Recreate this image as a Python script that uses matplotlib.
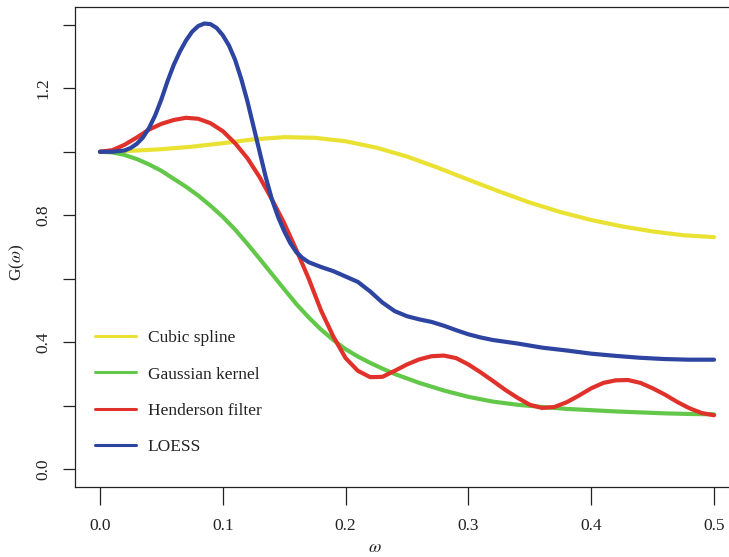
import numpy as np
import matplotlib.pyplot as plt

plt.rcParams['font.family'] = ['Liberation Serif', 'DejaVu Serif']
plt.rcParams['mathtext.fontset'] = 'stix'

# gain functions of four smoothers, G(omega)
w_spline = [0, .025, .05, .075, .1, .125, .15, .175, .2, .225, .25, .275, .3,
            .325, .35, .375, .4, .425, .45, .475, .5]
g_spline = [1.0, 1.003, 1.008, 1.016, 1.027, 1.039, 1.046, 1.044, 1.033, 1.013,
            0.985, 0.95, 0.912, 0.875, 0.84, 0.81, 0.785, 0.765, 0.749, 0.737, 0.731]

w_gauss = [0, .01, .02, .03, .04, .05, .06, .07, .08, .09, .1, .11, .12, .13, .14,
           .15, .16, .17, .18, .19, .2, .21, .22, .23, .24, .26, .28, .3, .32,
           .34, .36, .38, .4, .42, .44, .46, .48, .5]
g_gauss = [1.0, 0.998, 0.99, 0.977, 0.96, 0.94, 0.915, 0.89, 0.862, 0.83, 0.795,
           0.755, 0.71, 0.663, 0.615, 0.567, 0.52, 0.478, 0.44, 0.407, 0.378,
           0.355, 0.335, 0.317, 0.3, 0.272, 0.248, 0.228, 0.213, 0.203, 0.196,
           0.19, 0.186, 0.182, 0.179, 0.176, 0.174, 0.173]

w_hend = [0, .01, .02, .03, .04, .05, .06, .07, .08, .09, .1, .11, .12, .13, .14,
          .15, .16, .17, .18, .19, .2, .21, .22, .23, .24, .25, .26, .27, .28,
          .29, .3, .31, .32, .33, .34, .35, .36, .37, .38, .39, .4, .41, .42,
          .43, .44, .45, .46, .47, .48, .49, .5]
g_hend = [1.0, 1.005, 1.022, 1.045, 1.07, 1.088, 1.1, 1.107, 1.104, 1.09, 1.065,
          1.027, 0.98, 0.92, 0.85, 0.775, 0.69, 0.6, 0.5, 0.418, 0.35, 0.31,
          0.29, 0.291, 0.31, 0.33, 0.346, 0.356, 0.358, 0.35, 0.33, 0.305, 0.278,
          0.25, 0.225, 0.203, 0.193, 0.196, 0.211, 0.232, 0.255, 0.272, 0.28,
          0.281, 0.272, 0.255, 0.235, 0.212, 0.192, 0.177, 0.17]

w_loess = [0, .01, .02, .025, .03, .035, .04, .045, .05, .055, .06, .065, .07,
           .075, .08, .085, .09, .095, .1, .105, .11, .115, .12, .125, .13, .135,
           .14, .145, .15, .155, .16, .165, .17, .18, .19, .2, .21, .22, .23, .24,
           .25, .26, .27, .28, .29, .3, .31, .32, .34, .36, .38, .4, .42, .44, .46,
           .48, .5]
g_loess = [1.0, 1.0, 1.004, 1.012, 1.025, 1.045, 1.075, 1.115, 1.165, 1.222,
           1.273, 1.315, 1.35, 1.378, 1.396, 1.404, 1.402, 1.39, 1.367, 1.335,
           1.29, 1.23, 1.16, 1.08, 1.0, 0.92, 0.85, 0.795, 0.75, 0.712, 0.683,
           0.665, 0.652, 0.637, 0.624, 0.607, 0.59, 0.56, 0.525, 0.498, 0.482,
           0.472, 0.464, 0.452, 0.438, 0.425, 0.415, 0.407, 0.396, 0.383, 0.374,
           0.364, 0.357, 0.351, 0.347, 0.345, 0.345]

labels = ['Cubic spline', 'Gaussian kernel', 'Henderson filter', 'LOESS']
colors = ['#EAE233', '#63C84A', '#E0322B', '#2D44A0']

W, H = 729, 557
fig = plt.figure(figsize=(W / 100, H / 100), dpi=100)
# box runs off the right edge of the figure
ax = fig.add_axes([75.4 / W, 1 - 487 / H, (738.6 - 75.4) / W, 480 / H])

series = [(w_spline, g_spline), (w_gauss, g_gauss), (w_hend, g_hend), (w_loess, g_loess)]
for (x, y), lab, c in zip(series, labels, colors):
    ax.plot(x, y, color=c, lw=3.0, label=lab, solid_capstyle='round',
            solid_joinstyle='round')

ax.set_xlim(-0.02, 0.52)
ax.set_ylim(-0.056, 1.456)

ax.set_xticks([0, 0.1, 0.2, 0.3, 0.4, 0.5])
ax.set_xticklabels(['0.0', '0.1', '0.2', '0.3', '0.4', '0.5'])
ax.set_yticks([0, 0.2, 0.4, 0.6, 0.8, 1.0, 1.2, 1.4])
ax.set_yticklabels(['0.0', '', '0.4', '', '0.8', '', '1.2', ''], rotation=90, va='center')

ax.tick_params(axis='x', length=13, width=0.9, pad=9, labelsize=12.5, colors='#222222')
ax.tick_params(axis='y', length=9, width=0.9, pad=8, labelsize=12.5, colors='#222222')
for s in ax.spines.values():
    s.set_linewidth(0.9)
    s.set_color('#222222')

fig.text(17 / W, 1 - 262 / H, r'G($\omega$)', rotation=90, ha='center', va='center',
         fontsize=12.5, color='#222222')
fig.text(375 / W, 1 - 547 / H, r'$\omega$', ha='center', va='center',
         fontsize=13, color='#222222')

leg = ax.legend(loc='center left', bbox_to_anchor=(95 / W, 1 - 392.5 / H),
                bbox_transform=fig.transFigure, frameon=False, fontsize=12.5,
                handlelength=2.35, handletextpad=0.7, labelspacing=1.15,
                borderpad=0, borderaxespad=0)
for ln in leg.get_lines():
    ln.set_linewidth(2.2)
for t in leg.get_texts():
    t.set_color('#222222')

fig.savefig('out.png', dpi=100)
